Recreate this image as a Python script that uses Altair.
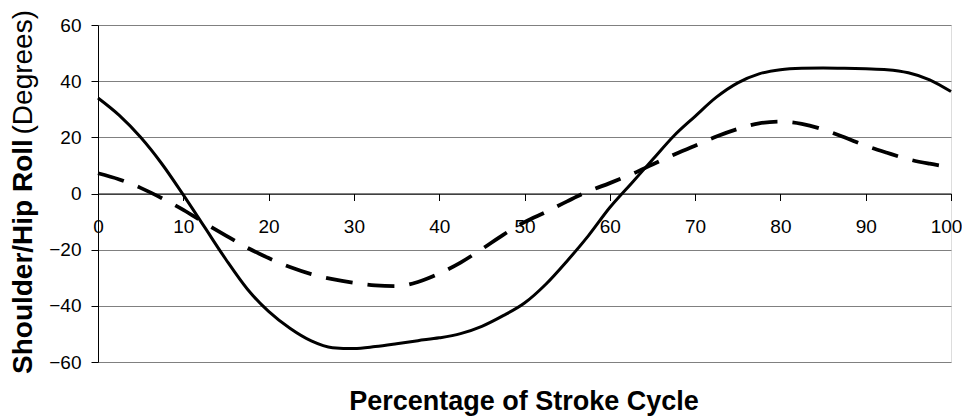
import altair as alt
import pandas as pd

x_pct = [0, 2.5, 5, 7.5, 10, 12.5, 15, 17.5, 20, 22.5, 25, 27.5, 30, 32.5, 35, 37.5, 40,
         42.5, 45, 47.5, 50, 52.5, 55, 57.5, 60, 62.5, 65, 67.5, 70, 72.5, 75, 77.5, 80,
         82.5, 85, 87.5, 90, 92.5, 95, 97.5, 100]
shoulder = [34, 27.8, 20, 10.5, -0.5, -12, -23.5, -34, -42, -48, -52.5, -54.9, -55.2, -54.5,
            -53.5, -52.4, -51.4, -49.9, -47.3, -43.5, -39, -32.3, -24, -15, -5, 3.5, 12, 20.5,
            27.5, 34.3, 39.4, 42.6, 44.1, 44.6, 44.7, 44.6, 44.4, 44.1, 43, 40.5, 36.3]
hip = [7.2, 5, 2, -1.7, -5.8, -10.5, -15, -19.3, -23, -26.2, -28.7, -30.5, -31.8, -32.7,
       -33, -31.5, -28.5, -24.6, -19.8, -14.7, -10.2, -6.6, -2.8, 0.8, 3.7, 6.8, 10.3,
       13.8, 17, 20.3, 23, 25, 25.6, 24.8, 22.8, 20, 17, 14.5, 12.2, 10.6, 9.3]
x_ticks = [0, 10, 20, 30, 40, 50, 60, 70, 80, 90, 100]
y_ticks = [-60, -40, -20, 0, 20, 40, 60]
x_title = "Percentage of Stroke Cycle"
y_title_bold = "Shoulder/Hip Roll"
y_title_plain = "(Degrees)"

df = pd.DataFrame({
    "pct": x_pct * 2,
    "roll": shoulder + hip,
    "series": ["Shoulder"] * len(x_pct) + ["Hip"] * len(x_pct),
})

W, H = 853, 337
FONT = "Liberation Sans"

x_enc = alt.X("pct:Q",
              scale=alt.Scale(domain=[0, 100], nice=False, zero=False),
              axis=alt.Axis(values=x_ticks, offset=-H / 2, grid=False, title=None,
                            tickSize=7, tickColor="black", domainColor="black",
                            labelPadding=17, labelFlush=False, labelFontSize=19,
                            labelOffset={"condition": {"test": "datum.value == 100", "value": -5},
                                         "value": 0},
                            labelColor="black", labelFont=FONT, format="d"))
y_enc = alt.Y("roll:Q",
              scale=alt.Scale(domain=[-60, 60], nice=False),
              axis=alt.Axis(values=y_ticks, grid=True, gridColor="#808080", title=None,
                            tickSize=7, tickColor="black", domainColor="black",
                            labelPadding=10, labelFontSize=19, labelColor="black",
                            labelFont=FONT, format="d"))

base = alt.Chart(df).encode(x=x_enc, y=y_enc)

solid = base.transform_filter(alt.datum.series == "Shoulder").mark_line(
    color="black", strokeWidth=3, interpolate="monotone")
dashed = base.transform_filter(alt.datum.series == "Hip").mark_line(
    color="black", strokeWidth=3.8, strokeDash=[27, 15], interpolate="monotone")

xt = alt.Chart(pd.DataFrame({"t": [x_title]})).mark_text(
    font=FONT, fontSize=27, fontWeight="bold", align="center", baseline="alphabetic",
    color="black").encode(text="t:N", x=alt.value(426), y=alt.value(385))

yt1 = alt.Chart(pd.DataFrame({"t": [y_title_bold]})).mark_text(
    font=FONT, fontSize=28, fontWeight="bold", align="left", baseline="alphabetic",
    angle=270, color="black").encode(text="t:N", x=alt.value(-66), y=alt.value(349))

yt2 = alt.Chart(pd.DataFrame({"t": [y_title_plain]})).mark_text(
    font=FONT, fontSize=28, fontWeight="normal", align="right", baseline="alphabetic",
    angle=270, color="black").encode(text="t:N", x=alt.value(-66), y=alt.value(-15))

chart = alt.layer(solid, dashed, xt, yt1, yt2).properties(
    width=W, height=H,
    autosize=alt.AutoSizeParams(type="none"),
    padding={"left": 90, "top": 17, "right": 11, "bottom": 56},
).configure_view(stroke="#8a8a8a", strokeWidth=1.5).configure(background="white")

chart.save("out.html", embed_options={"renderer": "svg", "actions": False})
